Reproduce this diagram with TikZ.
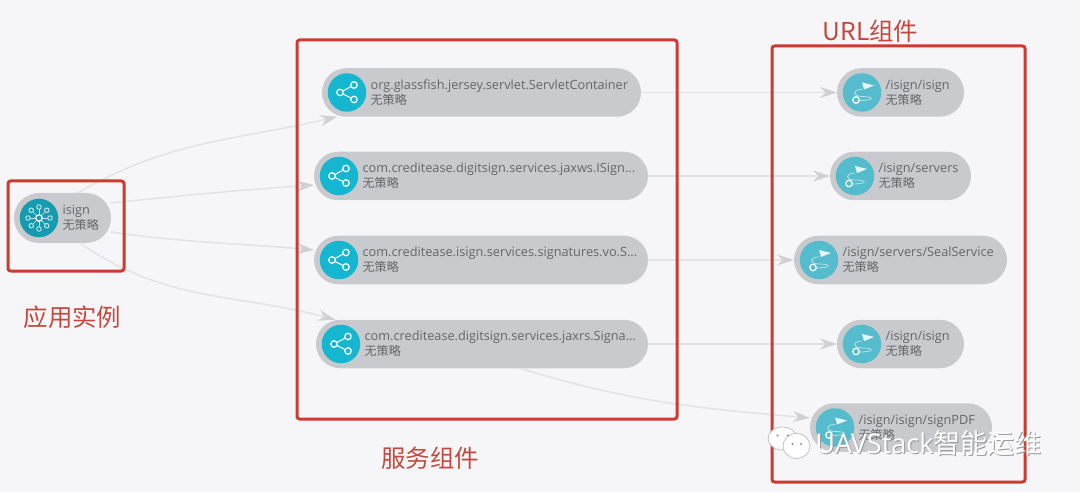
\documentclass[tikz,border=0pt]{standalone}
\usepackage{fontspec}
\setmainfont{Open Sans}
\newfontfamily\cjk[Scale=0.95]{Noto Sans CJK SC}
\newfontfamily\capcjk{Noto Sans CJK SC}
\usetikzlibrary{arrows.meta,positioning,shapes.misc}
\definecolor{pagebg}{RGB}{246,246,249}
\definecolor{pillgray}{RGB}{201,202,205}
\definecolor{inktext}{RGB}{100,102,106}
\definecolor{boxred}{RGB}{205,58,48}
\definecolor{capred}{RGB}{196,72,62}
\definecolor{appteal}{RGB}{20,155,175}
\definecolor{svcteal}{RGB}{20,182,208}
\definecolor{urlteal}{RGB}{84,188,204}
\definecolor{flowgray}{RGB}{226,226,230}
\definecolor{tipgray}{RGB}{208,208,211}
\tikzset{
  pill/.style={rounded rectangle,fill=pillgray,minimum height=0.97cm,inner sep=0pt,outer sep=0pt},
  icon/.style={circle,minimum size=0.77cm,inner sep=0pt,outer sep=0pt},
  pilltext/.style={font=\fontsize{7.25pt}{7.2pt}\selectfont,text=inktext,align=left,inner sep=0pt},
  flow/.style={flowgray,line width=0.028cm,-{Stealth[length=0.34cm,width=0.22cm,color=tipgray]}},
  redbox/.style={draw=boxred,line width=0.06cm,rounded corners=0.05cm,inner sep=0pt,outer sep=0pt},
  redcap/.style={font=\fontsize{13.9pt}{14pt}\capcjk,text=capred,inner sep=0pt},
  wmark/.style={font=\fontsize{15.4pt}{16pt}\selectfont,inner sep=0pt},
  bubble/.style={fill=white,draw=black!25,line width=0.015cm},
  pics/shareicon/.style={code={
    \draw[white,line width=0.02cm] (-0.14,0) -- (0.14,0.15) (-0.14,0) -- (0.14,-0.14);
    \draw[white,fill=svcteal,line width=0.025cm] (-0.14,0) circle (0.065) (0.14,0.15) circle (0.065) (0.14,-0.14) circle (0.065);
  }},
  pics/urlicon/.style={code={
    \draw[white!60!urlteal,line width=0.015cm] (0,0.06) .. controls (-0.2,0.06) and (-0.2,-0.08) .. (0,-0.08) .. controls (0.26,-0.08) and (0.26,-0.16) .. (-0.06,-0.16);
    \fill[white!85!urlteal] (0,0.2) -- (0.24,0.14) -- (0.04,0.06) -- cycle;
    \draw[white,fill=urlteal,line width=0.025cm] (-0.12,-0.15) circle (0.065);
  }},
  pics/appicon/.style={code={
    \foreach \ang in {0,45,...,315} {
      \draw[white!75!appteal,line width=0.012cm] (0,0) -- (\ang:0.22);
      \draw[white!75!appteal,fill=appteal,line width=0.02cm] (\ang:0.22) circle (0.045);
    }
    \draw[white,fill=appteal,line width=0.025cm] (0,0) circle (0.065);
  }}
}
\begin{document}
\begin{tikzpicture}[line cap=round,line join=round,x=1cm,y=1cm]
\useasboundingbox (0,0) rectangle (21.6,9.84);
\fill[pagebg] (0,0) rectangle (21.6,9.84);
% pills
\node[pill,minimum width=1.94cm,minimum height=1cm] (isign) at (1.25,5.48) {};
\node[pill,minimum width=6.38cm] (svcA) at (9.63,7.99) {};
\node[pill,minimum width=6.68cm] (svcB) at (9.62,6.32) {};
\node[pill,minimum width=6.68cm] (svcC) at (9.62,4.64) {};
\node[pill,minimum width=6.64cm] (svcD) at (9.64,2.96) {};
\node[pill,minimum width=2.54cm] (urlA) at (18.01,7.99) {};
\node[pill,minimum width=2.82cm] (urlB) at (18.01,6.32) {};
\node[pill,minimum width=4.26cm] (urlC) at (18.01,4.64) {};
\node[pill,minimum width=2.54cm] (urlD) at (18.01,2.96) {};
\node[pill,minimum width=3.64cm] (urlE) at (18.02,1.29) {};
% connectors
\draw[flow] ([xshift=0.3cm]isign.north) to[out=30,in=193] ([xshift=-0.18cm]svcA.south west);
\draw[flow] ([yshift=0.3cm]isign.east) to[out=6,in=184] ([yshift=-0.18cm]svcB.west);
\draw[flow] ([yshift=-0.28cm]isign.east) to[out=-8,in=175] ([yshift=0.2cm]svcC.west);
\draw[flow] ([xshift=0.35cm]isign.south) to[out=-35,in=165] ([xshift=-0.1cm]svcD.north west);
\draw[flow] (svcA.east) -- (urlA.west);
\draw[flow] (svcB.east) -- (urlB.west);
\draw[flow] (svcC.east) -- (urlC.west);
\draw[flow] (svcD.east) -- (urlD.west);
\draw[flow] ([xshift=0.76cm]svcD.south) to[out=-17,in=175] ([yshift=0.19cm]urlE.west);
% icons
\node[icon,fill=appteal] (isignIcon) at ([xshift=0.5cm]isign.west) {};
\pic at (isignIcon) {appicon};
\node[icon,fill=svcteal] (svcAIcon) at ([xshift=0.5cm]svcA.west) {};
\pic at (svcAIcon) {shareicon};
\node[icon,fill=svcteal] (svcBIcon) at ([xshift=0.5cm]svcB.west) {};
\pic at (svcBIcon) {shareicon};
\node[icon,fill=svcteal] (svcCIcon) at ([xshift=0.5cm]svcC.west) {};
\pic at (svcCIcon) {shareicon};
\node[icon,fill=svcteal] (svcDIcon) at ([xshift=0.5cm]svcD.west) {};
\pic at (svcDIcon) {shareicon};
\node[icon,fill=urlteal] (urlAIcon) at ([xshift=0.5cm]urlA.west) {};
\pic at (urlAIcon) {urlicon};
\node[icon,fill=urlteal] (urlBIcon) at ([xshift=0.5cm]urlB.west) {};
\pic at (urlBIcon) {urlicon};
\node[icon,fill=urlteal] (urlCIcon) at ([xshift=0.5cm]urlC.west) {};
\pic at (urlCIcon) {urlicon};
\node[icon,fill=urlteal] (urlDIcon) at ([xshift=0.5cm]urlD.west) {};
\pic at (urlDIcon) {urlicon};
\node[icon,fill=urlteal] (urlEIcon) at ([xshift=0.5cm]urlE.west) {};
\pic at (urlEIcon) {urlicon};
% texts
\node[pilltext,right=0.08cm of isignIcon] (isignText) {isign\\{\cjk 无策略}};
\node[pilltext,right=0.08cm of svcAIcon] (svcAText) {org.glassfish.jersey.servlet.ServletContainer\\{\cjk 无策略}};
\node[pilltext,right=0.08cm of svcBIcon] (svcBText) {com.creditease.digitsign.services.jaxws.ISign...\\{\cjk 无策略}};
\node[pilltext,right=0.08cm of svcCIcon] (svcCText) {com.creditease.isign.services.signatures.vo.S...\\{\cjk 无策略}};
\node[pilltext,right=0.08cm of svcDIcon] (svcDText) {com.creditease.digitsign.services.jaxrs.Signa...\\{\cjk 无策略}};
\node[pilltext,right=0.08cm of urlAIcon] (urlAText) {/isign/isign\\{\cjk 无策略}};
\node[pilltext,right=0.08cm of urlBIcon] (urlBText) {/isign/servers\\{\cjk 无策略}};
\node[pilltext,right=0.08cm of urlCIcon] (urlCText) {/isign/servers/SealService\\{\cjk 无策略}};
\node[pilltext,right=0.08cm of urlDIcon] (urlDText) {/isign/isign\\{\cjk 无策略}};
\node[pilltext,right=0.08cm of urlEIcon] (urlEText) {/isign/isign/signPDF\\{\cjk 无策略}};
% red frames and captions
\node[redbox,minimum width=2.32cm,minimum height=1.8cm] (appFrame) at (1.32,5.32) {};
\node[redbox,minimum width=7.6cm,minimum height=7.58cm] (svcFrame) at (9.74,5.25) {};
\node[redbox,minimum width=5.06cm,minimum height=8.72cm] (urlFrame) at (17.97,4.56) {};
\node[redcap] (appCap) at (1.45,3.5) {应用实例};
\node[redcap] (svcCap) at (8.6,0.68) {服务组件};
\node[redcap] (urlCap) at (17.41,9.22) {{\fontsize{14pt}{14pt}\selectfont URL}组件};
% watermark
\fill[bubble] (15.65,1.07) ellipse (0.29 and 0.23);
\fill[black!45] (15.55,1.13) circle (0.022) (15.76,1.13) circle (0.022);
\fill[bubble] (15.93,0.92) ellipse (0.27 and 0.25);
\fill[black!45] (15.85,0.96) circle (0.022) (16.02,0.96) circle (0.022);
\node[wmark,text=black!40,anchor=west] (markShade) at (16.32,0.96) {UAVStack{\capcjk 智能运维}};
\node[wmark,text=white,anchor=west] (markText) at (16.30,0.98) {UAVStack{\capcjk 智能运维}};
\end{tikzpicture}
\end{document}
